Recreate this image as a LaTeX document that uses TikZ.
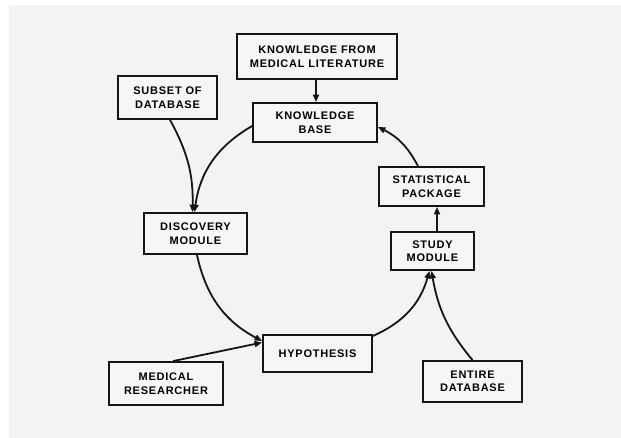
\documentclass[tikz,border=0pt]{standalone}
\usepackage{fontspec}
\setmainfont{Liberation Sans}
\newfontfamily\lblfont{Liberation Sans}[LetterSpace=7]
\usetikzlibrary{arrows.meta,shadows}
\definecolor{bg}{HTML}{F3F3F3}
\definecolor{boxfill}{HTML}{F6F6F6}
\definecolor{ink}{HTML}{151515}
\begin{document}
\begin{tikzpicture}[x=1pt,y=1pt,
  box/.style={draw=ink, line width=1.8pt, fill=boxfill, align=center,
    font=\lblfont\bfseries\fontsize{11}{13.5}\selectfont, inner sep=0pt,
    drop shadow={shadow xshift=1.1pt, shadow yshift=-1.1pt, fill=ink, opacity=0.85}},
  arr/.style={-{Triangle[length=7.5pt,width=6pt]}, line width=1.8pt, draw=ink}]
\useasboundingbox (0,0) rectangle (621,-438);
\fill[white] (0,0) rectangle (621,-438);
\fill[bg] (9,-5) rectangle (621,-438);

\node[box, minimum width=160pt, minimum height=45pt] (kfml) at (317,-56.5) {KNOWLEDGE FROM\\MEDICAL LITERATURE};
\node[box, minimum width=124pt, minimum height=39pt] (kb) at (315,-122.5) {KNOWLEDGE\\BASE};
\node[box, minimum width=99pt, minimum height=43pt] (subset) at (167.5,-97.5) {SUBSET OF\\DATABASE};
\node[box, minimum width=105pt, minimum height=39pt] (stat) at (431.5,-186.5) {STATISTICAL\\PACKAGE};
\node[box, minimum width=103pt, minimum height=41pt] (disc) at (195.5,-233.5) {DISCOVERY\\MODULE};
\node[box, minimum width=83pt, minimum height=38pt] (study) at (432.5,-251) {STUDY\\MODULE};
\node[box, minimum width=109pt, minimum height=37pt] (hyp) at (317.5,-353.5) {HYPOTHESIS};
\node[box, minimum width=114pt, minimum height=43pt] (medres) at (166,-383.5) {MEDICAL\\RESEARCHER};
\node[box, minimum width=99pt, minimum height=41pt] (entire) at (472.5,-381.5) {ENTIRE\\DATABASE};

\draw[arr] ([xshift=-1pt]kfml.south) -- ([xshift=1pt]kb.north);
\draw[arr] ([yshift=-3.5pt]kb.west) to[bend right=26] ([xshift=-1pt]disc.north);
\draw[arr] ([xshift=2.5pt]subset.south) to[bend left=15] ([xshift=-3pt]disc.north);
\draw[arr] ([xshift=1.5pt]disc.south) to[bend right=25] ([yshift=12.5pt]hyp.west);
\draw[arr] ([xshift=7pt]medres.north) -- ([yshift=11pt]hyp.west);
\draw[arr] ([yshift=17.5pt]hyp.east) to[bend right=25] ([xshift=-3pt]study.south);
\draw[arr] (entire.north) to[bend left=15] ([xshift=-1pt]study.south);
\draw[arr] ([xshift=4.5pt]study.north) -- ([xshift=5.5pt]stat.south);
\draw[arr] ([xshift=-13.5pt]stat.north) to[bend right=18] ([yshift=-4.5pt]kb.east);
\end{tikzpicture}
\end{document}
